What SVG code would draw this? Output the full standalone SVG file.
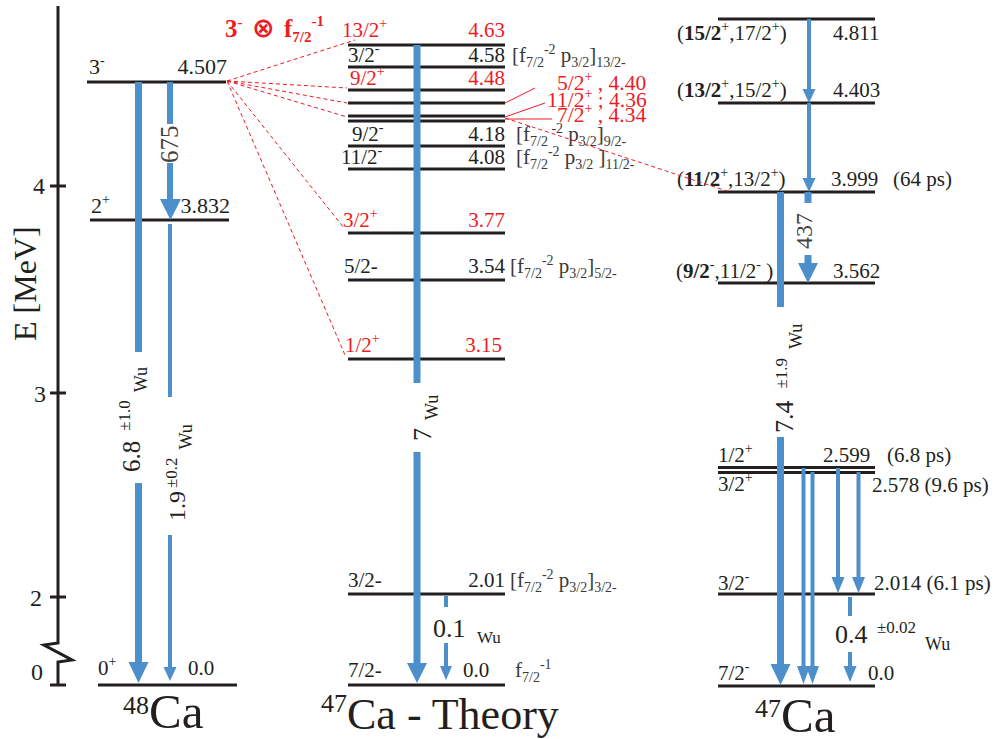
<svg xmlns="http://www.w3.org/2000/svg" width="999" height="739" viewBox="0 0 999 739">
<style>
text{font-family:"Liberation Serif","Times New Roman",serif;fill:#231f20}
.lv{stroke:#231f20;stroke-width:3}
.f22{font-size:22px}
.f21{font-size:21px}
.red{fill:#ed1c24}
.gr{fill:#3a3a3a}
.b{font-weight:bold}
.s{font-size:14px}
.ar{stroke:#4d8fcb;fill:none}
.hd{fill:#4d8fcb}
.dr{stroke:#ed1c24;stroke-width:1;stroke-dasharray:4 3;fill:none}
.sr{stroke:#ed1c24;stroke-width:1;fill:none}
.ax{stroke:#231f20;stroke-width:3;fill:none}
</style>
<rect width="999" height="739" fill="#ffffff"/>

<g id="axis">
<path class="ax" d="M58,6 V643 L44,645 L72,660 L58,662 V685"/>
<path class="ax" d="M50,186 H66 M50,393 H66 M50,597 H66 M50,685 H66"/>
<text font-size="24" x="45" y="194" text-anchor="end">4</text>
<text font-size="24" x="46" y="402" text-anchor="end">3</text>
<text font-size="24" x="42" y="606" text-anchor="end">2</text>
<text font-size="24" x="43" y="680" text-anchor="end">0</text>
<text font-size="32" transform="translate(36,341) rotate(-90)">E [MeV]</text>
</g>

<!-- 48Ca -->
<g id="ca48-4507">
<line class="lv" x1="87" y1="82" x2="226" y2="82"/>
<text class="f22" x="89" y="74">3<tspan class="s" dy="-9">-</tspan></text>
<text class="f22" x="227" y="74" text-anchor="end">4.507</text>
</g>
<g id="ca48-3832">
<line class="lv" x1="90" y1="220" x2="229" y2="220"/>
<text class="f22" x="91" y="213">2<tspan class="s" dy="-9">+</tspan></text>
<text class="f22" x="230" y="213" text-anchor="end">3.832</text>
</g>
<g id="ca48-0">
<line class="lv" x1="98" y1="685" x2="237" y2="685"/>
<text class="f21" x="98" y="675">0<tspan class="s" dy="-9">+</tspan></text>
<text class="f21" x="188" y="675">0.0</text>
</g>
<g id="ca48-title">
<text x="123" y="714"><tspan font-size="26">48</tspan><tspan font-size="49" dy="14">Ca</tspan></text>
</g>

<!-- 47Ca theory -->
<g id="th-463">
<line class="lv" x1="348" y1="45" x2="505" y2="45"/>
<text class="f21 red" x="342" y="37">13/2<tspan class="s" dy="-9">+</tspan></text>
<text class="f21 red" x="505" y="37" text-anchor="end">4.63</text>
</g>
<g id="th-458">
<line class="lv" x1="348" y1="67" x2="505" y2="67"/>
<text class="f21" x="348" y="62">3/2<tspan class="s" dy="-9">-</tspan></text>
<text class="f21" x="505" y="62" text-anchor="end">4.58</text>
<text class="f21 gr" x="512" y="62">[f<tspan class="s" dy="5">7/2</tspan><tspan class="s" dy="-13">-2</tspan><tspan dy="8"> p</tspan><tspan class="s" dy="5">3/2</tspan><tspan dy="-5">]</tspan><tspan class="s" dy="5">13/2-</tspan></text>
</g>
<g id="th-448">
<line class="lv" x1="348" y1="90" x2="505" y2="90"/>
<text class="f21 red" x="350" y="85">9/2<tspan class="s" dy="-9">+</tspan></text>
<text class="f21 red" x="505" y="85" text-anchor="end">4.48</text>
</g>
<g id="th-440">
<line class="lv" x1="348" y1="103" x2="505" y2="103"/>
<text class="red" font-size="21.5" x="557" y="90">5/2<tspan class="s" dy="-9">+</tspan><tspan dy="9"> , 4.40</tspan></text>
</g>
<g id="th-436">
<line class="lv" x1="348" y1="116" x2="505" y2="116"/>
<text class="red" font-size="21.5" x="547" y="107">11/2<tspan class="s" dy="-9">+</tspan><tspan dy="9"> ; 4.36</tspan></text>
</g>
<g id="th-434">
<line class="lv" x1="348" y1="121" x2="505" y2="121"/>
<text class="red" font-size="21.5" x="557" y="122">7/2<tspan class="s" dy="-9">+</tspan><tspan dy="9"> , 4.34</tspan></text>
</g>
<g id="th-418">
<line class="lv" x1="348" y1="146" x2="505" y2="146"/>
<text class="f21" x="352" y="141">9/2<tspan class="s" dy="-9">-</tspan></text>
<text class="f21" x="505" y="141" text-anchor="end">4.18</text>
<text class="f21 gr" x="516" y="141">[f<tspan class="s" dy="5">7/2 </tspan><tspan class="s" dy="-13">-2</tspan><tspan dy="8"> p</tspan><tspan class="s" dy="5">3/2</tspan><tspan dy="-5">]</tspan><tspan class="s" dy="5">9/2-</tspan></text>
</g>
<g id="th-408">
<line class="lv" x1="348" y1="169" x2="505" y2="169"/>
<text class="f21" x="341" y="164">11/2<tspan class="s" dy="-9">-</tspan></text>
<text class="f21" x="505" y="164" text-anchor="end">4.08</text>
<text class="f21 gr" x="516" y="164">[f<tspan class="s" dy="5">7/2</tspan><tspan class="s" dy="-13">-2</tspan><tspan dy="8"> p</tspan><tspan class="s" dy="5">3/2</tspan><tspan dy="-5"> ]</tspan><tspan class="s" dy="5">11/2-</tspan></text>
</g>
<g id="th-377">
<line class="lv" x1="348" y1="233" x2="505" y2="233"/>
<text class="f21 red" x="343" y="227">3/2<tspan class="s" dy="-9">+</tspan></text>
<text class="f21 red" x="505" y="227" text-anchor="end">3.77</text>
</g>
<g id="th-354">
<line class="lv" x1="348" y1="280" x2="505" y2="280"/>
<text class="f21" x="344" y="273">5/2-</text>
<text class="f21" x="505" y="273" text-anchor="end">3.54</text>
<text class="f21 gr" x="510" y="273">[f<tspan class="s" dy="5">7/2</tspan><tspan class="s" dy="-13">-2</tspan><tspan dy="8"> p</tspan><tspan class="s" dy="5">3/2</tspan><tspan dy="-5">]</tspan><tspan class="s" dy="5">5/2-</tspan></text>
</g>
<g id="th-315">
<line class="lv" x1="348" y1="359" x2="505" y2="359"/>
<text class="f21 red" x="345" y="352">1/2<tspan class="s" dy="-9">+</tspan></text>
<text class="f21 red" x="502" y="352" text-anchor="end">3.15</text>
</g>
<g id="th-201">
<line class="lv" x1="348" y1="594" x2="505" y2="594"/>
<text class="f21" x="348" y="587">3/2-</text>
<text class="f21" x="505" y="587" text-anchor="end">2.01</text>
<text class="f21 gr" x="510" y="587">[f<tspan class="s" dy="5">7/2</tspan><tspan class="s" dy="-13">-2</tspan><tspan dy="8"> p</tspan><tspan class="s" dy="5">3/2</tspan><tspan dy="-5">]</tspan><tspan class="s" dy="5">3/2-</tspan></text>
</g>
<g id="th-0">
<line class="lv" x1="348" y1="685" x2="505" y2="685"/>
<text class="f21" x="348" y="677">7/2-</text>
<text class="f21" x="463" y="677">0.0</text>
<text class="f21 gr" x="515" y="677">f<tspan class="s" dy="5">7/2</tspan><tspan class="s" dy="-13">-1</tspan></text>
</g>
<g id="th-title">
<text x="321" y="712"><tspan font-size="26">47</tspan><tspan font-size="44" dy="17">Ca - Theory</tspan></text>
</g>
<g id="red-label">
<text class="red b" font-size="25" x="225" y="37">3<tspan font-size="15" dy="-10">-</tspan><tspan dy="10" font-size="27" style="font-family:'DejaVu Sans',sans-serif"> ⊗ </tspan><tspan>f</tspan><tspan font-size="15" dy="5">7/2</tspan><tspan font-size="15" dy="-16">-1</tspan></text>
</g>

<!-- 47Ca experiment -->
<g id="ex-4811">
<line class="lv" x1="718" y1="19" x2="875" y2="19"/>
<text class="f21" x="677" y="40">(<tspan class="b">15/2</tspan><tspan class="s" dy="-9">+</tspan><tspan dy="9">,17/2</tspan><tspan class="s" dy="-9">+</tspan><tspan dy="9">)</tspan></text>
<text class="f21" x="833" y="40">4.811</text>
</g>
<g id="ex-4403">
<line class="lv" x1="718" y1="103" x2="875" y2="103"/>
<text class="f21" x="677" y="97">(<tspan class="b">13/2</tspan><tspan class="s" dy="-9">+</tspan><tspan dy="9">,15/2</tspan><tspan class="s" dy="-9">+</tspan><tspan dy="9">)</tspan></text>
<text class="f21" x="833" y="97">4.403</text>
</g>
<g id="ex-3999">
<line class="lv" x1="718" y1="192" x2="875" y2="192"/>
<text class="f21" x="677" y="186">(<tspan class="b">11/2</tspan><tspan class="s" dy="-9">+</tspan><tspan dy="9">,13/2</tspan><tspan class="s" dy="-9">+</tspan><tspan dy="9">)</tspan></text>
<text class="f21" x="831" y="186">3.999</text>
<text class="f21" x="893" y="186">(64 ps)</text>
</g>
<g id="ex-3562">
<line class="lv" x1="718" y1="283" x2="875" y2="283"/>
<text class="f21" x="676" y="278">(<tspan class="b">9/2</tspan><tspan class="s" dy="-9">-</tspan><tspan dy="9">,11/2</tspan><tspan class="s" dy="-9">-</tspan><tspan dy="9"> )</tspan></text>
<text class="f21" x="833" y="278">3.562</text>
</g>
<g id="ex-2599">
<line class="lv" x1="718" y1="467.5" x2="875" y2="467.5"/>
<text class="f21" x="718" y="462">1/2<tspan class="s" dy="-9">+</tspan></text>
<text class="f21" x="823" y="462">2.599</text>
<text class="f21" x="887" y="462">(6.8 ps)</text>
</g>
<g id="ex-2578">
<line class="lv" x1="718" y1="472.5" x2="875" y2="472.5"/>
<text class="f21" x="718" y="491">3/2<tspan class="s" dy="-9">+</tspan></text>
<text class="f21" x="872" y="492">2.578 (9.6 ps)</text>
</g>
<g id="ex-2014">
<line class="lv" x1="718" y1="594" x2="875" y2="594"/>
<text class="f21" x="718" y="590">3/2<tspan class="s" dy="-9">-</tspan></text>
<text class="f21" x="874" y="590">2.014 (6.1 ps)</text>
</g>
<g id="ex-0">
<line class="lv" x1="718" y1="686" x2="875" y2="686"/>
<text class="f21" x="718" y="680">7/2<tspan class="s" dy="-9">-</tspan></text>
<text class="f21" x="868" y="680">0.0</text>
</g>
<g id="ex-title">
<text x="755" y="717"><tspan font-size="26">47</tspan><tspan font-size="49" dy="15">Ca</tspan></text>
</g>

<g id="connectors">
<path class="dr" d="M227,81 L355,40 M227,81 L347,88 M227,81 L347,103 M227,81 L347,117 M227,81 L344,228 M227,81 L345,355 M505,118 L727,191"/>
<path class="sr" d="M505,103 L535,88 M505,117 L545,103 M505,119 L552,119"/>

<path class="ar" stroke-width="7" d="M138.5,82 V352 M138.5,483 V663"/>
<polygon class="hd" points="128.5,662 148.5,662 138.5,683"/>
<path class="ar" stroke-width="6" d="M170,82 V124 M170,163 V200"/>
<polygon class="hd" points="160,199 181,199 170.5,220"/>
<path class="ar" stroke-width="4" d="M170,224 V397 M170,535 V668"/>
<polygon class="hd" points="163.5,667 176.5,667 170,681"/>
<text font-size="25" transform="translate(140,472) rotate(-90)">6.8<tspan font-size="17" dx="10" dy="-10">±1.0</tspan><tspan font-size="18" dx="8" dy="17">Wu</tspan></text>
<text font-size="24" transform="translate(185,521) rotate(-90)">1.9<tspan font-size="17" dx="3" dy="-8">±0.2</tspan><tspan font-size="18" dx="8" dy="15">Wu</tspan></text>
<text font-size="25" style="fill:#444" transform="translate(178,163) rotate(-90)">675</text>

<path class="ar" stroke-width="7" d="M417,45 V383 M417,452 V664"/>
<polygon class="hd" points="407,663 427,663 417,683"/>
<text font-size="26" transform="translate(431,441) rotate(-90)">7<tspan font-size="18" dx="8" dy="7">Wu</tspan></text>
<path class="ar" stroke-width="4" d="M446,596 V607 M446,643 V667"/>
<polygon class="hd" points="440,666 452,666 446,680"/>
<text font-size="26" x="433" y="637">0.1</text>
<text font-size="17" x="477" y="643">Wu</text>

<path class="ar" stroke-width="4" d="M809,19 V90"/>
<polygon class="hd" points="802.5,89 815.5,89 809,103"/>
<path class="ar" stroke-width="4" d="M809,103 V179"/>
<polygon class="hd" points="802.5,178 815.5,178 809,192"/>
<path class="ar" stroke-width="7" d="M808,192 V203 M808,255 V264"/>
<polygon class="hd" points="798,263 818,263 808,283"/>
<text font-size="24" style="fill:#444" transform="translate(812,249) rotate(-90)">437</text>
<path class="ar" stroke-width="7" d="M780.5,192 V307 M780.5,437 V665"/>
<polygon class="hd" points="770.5,664 790.5,664 780.5,685"/>
<text font-size="26" transform="translate(793,433) rotate(-90)">7.4<tspan font-size="17" dx="12" dy="-6">±1.9</tspan><tspan font-size="18" dx="9" dy="15">Wu</tspan></text>
<path class="ar" stroke-width="4" d="M803.5,468 V667"/>
<polygon class="hd" points="797,666 810,666 803.5,684"/>
<path class="ar" stroke-width="4" d="M812.5,472 V667"/>
<polygon class="hd" points="806,666 819,666 812.5,684"/>
<path class="ar" stroke-width="4" d="M838,468 V578"/>
<polygon class="hd" points="831.5,577 844.5,577 838,593"/>
<path class="ar" stroke-width="4" d="M858.5,472 V578"/>
<polygon class="hd" points="852,577 865,577 858.5,593"/>
<path class="ar" stroke-width="4" d="M850,597 V616 M850,652 V667"/>
<polygon class="hd" points="843.5,666 856.5,666 850,682"/>
<text font-size="26" x="835" y="643">0.4</text>
<text font-size="17" x="877" y="633">±0.02</text>
<text font-size="18" x="925" y="650">Wu</text>
</g>
</svg>
